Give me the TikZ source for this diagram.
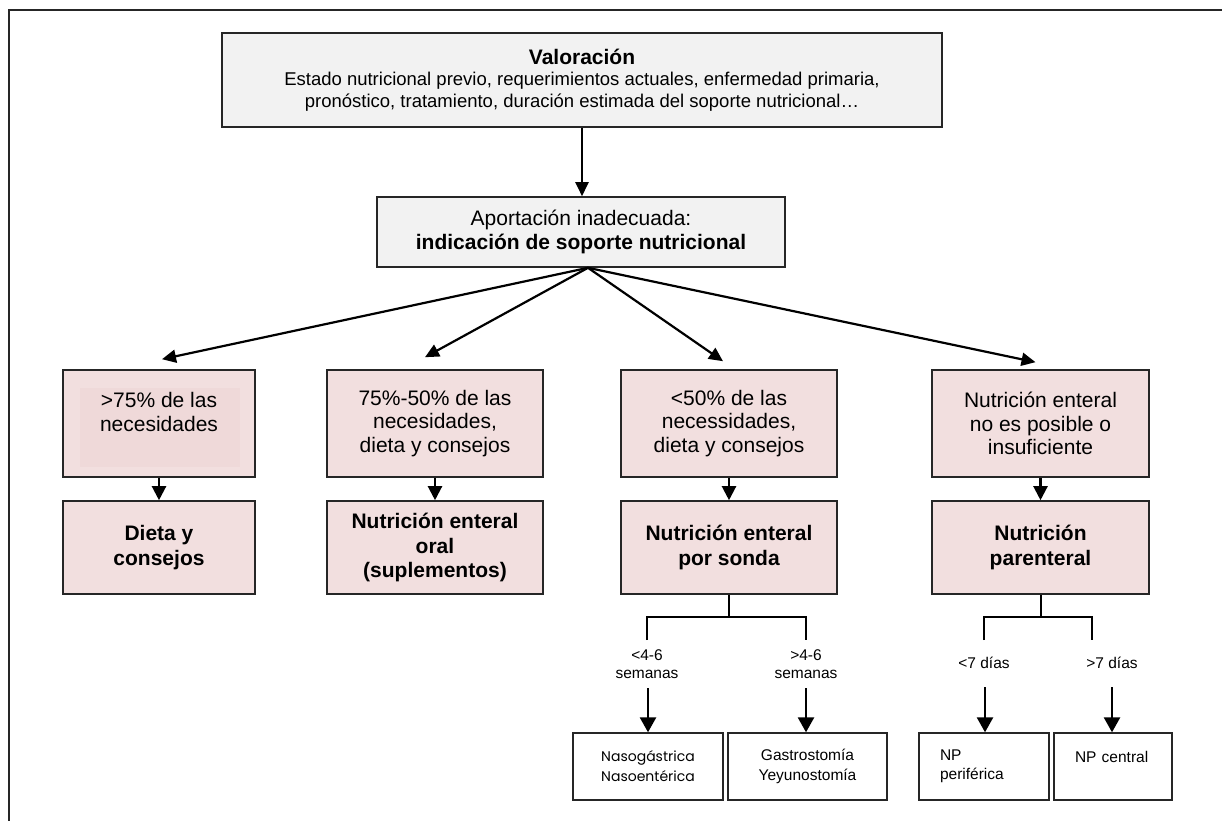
\documentclass[tikz,border=0pt]{standalone}
\usepackage{fontspec}
\setmainfont{Liberation Sans}
\newfontfamily\gothfont{Poppins}
\usetikzlibrary{arrows.meta,calc}
\definecolor{graybg}{HTML}{F2F2F2}
\definecolor{pinkbg}{HTML}{F2DFDF}
\definecolor{pinkin}{HTML}{EFD9D9}
\tikzset{
  frameline/.style={line width=1.6pt, draw=black!85},
  gbox/.style={draw=black!85, line width=1.6pt, fill=graybg, align=center, inner sep=0pt},
  pbox/.style={draw=black!85, line width=1.6pt, fill=pinkbg, align=center, inner sep=0pt},
  wbox/.style={draw=black!85, line width=1.4pt, fill=white, inner sep=0pt},
  rowone/.style={pbox, minimum height=107pt, font=\fontsize{21}{23.5}\selectfont},
  rowtwo/.style={pbox, minimum height=93pt, font=\fontsize{21}{24.5}\selectfont\bfseries},
  lbl/.style={align=center, inner sep=0pt, font=\fontsize{15.5}{18}\selectfont},
  arr/.style={line width=2.2pt, -{Triangle[length=14pt,width=13pt]}},
  sarr/.style={line width=2.2pt, -{Triangle[length=14pt,width=14pt]}},
  barr/.style={line width=2.6pt, -{Triangle[length=15pt,width=16pt]}},
  ln/.style={line width=2pt},
}
\begin{document}
\begin{tikzpicture}[x=1pt,y=-1pt]
\useasboundingbox (0,0) rectangle (1222,820);
\fill[white] (0,0) rectangle (1222,820);
\draw[frameline] (9,824) -- (9,10) -- (1226,10);

% top boxes
\node[gbox, minimum width=720pt, minimum height=94pt, font=\fontsize{18.5}{21.5}\selectfont] (top) at (582,80)
  {{\fontsize{21}{21.5}\selectfont\bfseries Valoración}\\
   Estado nutricional previo, requerimientos actuales, enfermedad primaria,\\
   pronóstico, tratamiento, duración estimada del soporte nutricional…};
\node[gbox, minimum width=408pt, minimum height=70pt, font=\fontsize{21}{24}\selectfont] (box2) at (581,232)
  {Aportación inadecuada:\\\textbf{indicación de soporte nutricional}};
\draw[arr] (top.south) -- (top.south |- box2.north);

% row one
\node[rowone, minimum width=192pt,
  path picture={\fill[pinkin] ($(path picture bounding box.north west)+(17,18)$) rectangle ($(path picture bounding box.north west)+(177,97)$);}]
  (B1) at (159,423.5) {>75\% de las\\necesidades\\\mbox{}};
\node[rowone, minimum width=216pt] (B2) at (435,423.5) {75\%-50\% de las\\necesidades,\\dieta y consejos};
\node[rowone, minimum width=216pt] (B3) at (729,423.5) {<50\% de las\\necessidades,\\dieta y consejos};
\node[rowone, minimum width=217pt] (B4) at (1040.5,423.5) {Nutrición enteral\\no es posible o\\insuficiente};

% row two
\node[rowtwo, minimum width=192pt] (C1) at (159,547.5) {Dieta y\\consejos};
\node[rowtwo, minimum width=216pt] (C2) at (435,547.5) {Nutrición enteral\\oral\\(suplementos)};
\node[rowtwo, minimum width=216pt] (C3) at (729,547.5) {Nutrición enteral\\por sonda};
\node[rowtwo, minimum width=217pt] (C4) at (1040.5,547.5) {Nutrición\\parenteral};

% fan arrows
\draw[arr] ([xshift=7pt]box2.south) -- ([xshift=3pt,yshift=10pt]B1.north);
\draw[arr] ([xshift=7pt]box2.south) -- ([xshift=-10pt,yshift=12pt]B2.north);
\draw[arr] ([xshift=7pt]box2.south) -- ([xshift=-6pt,yshift=8pt]B3.north);
\draw[arr] ([xshift=7pt]box2.south) -- ([xshift=-5pt,yshift=7pt]B4.north);

% short arrows
\draw[sarr] (B1.south) -- (C1.north);
\draw[sarr] (B2.south) -- (C2.north);
\draw[sarr] (B3.south) -- (C3.north);
\draw[sarr] (B4.south) -- (C4.north);

% bottom boxes
\node[wbox, minimum width=150pt, minimum height=67pt, align=center, font=\gothfont\fontsize{14}{20}\selectfont] (D1) at (648,766.5) {Nasogástrica\\Nasoentérica};
\node[wbox, minimum width=159pt, minimum height=67pt, align=center, font=\fontsize{15.5}{20}\selectfont] (D2) at (807.5,766.5) {Gastrostomía\\Yeyunostomía};
\node[wbox, minimum height=67pt, text width=88pt, inner xsep=21pt, align=left, font=\fontsize{15.5}{18.5}\selectfont] (D3) at (984,766.5) {NP\\periférica};
\node[wbox, minimum height=67pt, text width=76pt, inner xsep=21pt, align=left, font=\fontsize{15.5}{18.5}\selectfont] (D4) at (1113,766.5) {NP central\\\mbox{}};

% branch under C3
\coordinate (j3) at (728,617);
\coordinate (l3a) at (647,640);
\coordinate (l3b) at (806,640);
\draw[ln] (C3.south) -- (C3.south |- j3);
\draw[ln] (l3a) -- (l3a |- j3) -- (l3b |- j3) -- (l3b);
\node[lbl] (t3a) at (647,664) {<4-6\\semanas};
\node[lbl] (t3b) at (806,664) {>4-6\\semanas};
\coordinate (s3a) at (648,688);
\coordinate (s3b) at (806,688);
\draw[barr] (s3a) -- (s3a |- D1.north);
\draw[barr] (s3b) -- (s3b |- D2.north);

% branch under C4
\coordinate (j4) at (1040,617);
\coordinate (l4a) at (984,640);
\coordinate (l4b) at (1092,640);
\draw[ln] (C4.south) -- (C4.south |- j4);
\draw[ln] (l4a) -- (l4a |- j4) -- (l4b |- j4) -- (l4b);
\node[lbl] (t4a) at (984,663) {<7 días};
\node[lbl] (t4b) at (1112,663) {>7 días};
\coordinate (s4a) at (985,687);
\coordinate (s4b) at (1112,687);
\draw[barr] (s4a) -- (s4a |- D3.north);
\draw[barr] (s4b) -- (s4b |- D4.north);
\end{tikzpicture}
\end{document}
